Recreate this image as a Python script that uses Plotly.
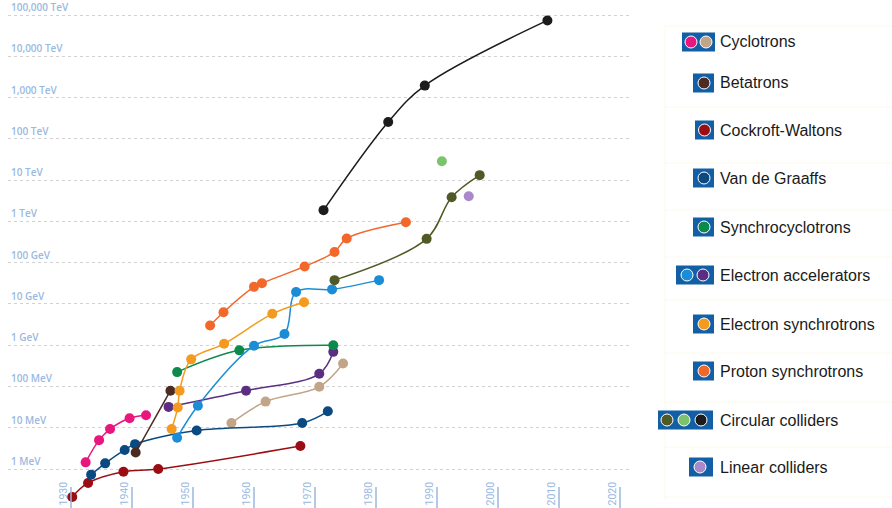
import math
import plotly.graph_objects as go

W, H = 892, 508

# ---------------- data (year, energy in MeV) ----------------
cyc_pink_year = [1932.4, 1934.6, 1936.4, 1939.6, 1942.3]
cyc_pink_mev = [1.45, 5.0, 9.3, 17, 20]
cyc_tan_year = [1956.3, 1961.9, 1970.7, 1974.6]
cyc_tan_mev = [13, 43, 98, 360]
beta_year = [1940.6, 1946.3]
beta_mev = [2.5, 79]
cw_year = [1930.2, 1932.8, 1938.6, 1944.3, 1967.6]
cw_mev = [0.21, 0.46, 0.86, 1.0, 3.6]
vdg_year = [1933.3, 1935.6, 1938.8, 1940.5, 1950.6, 1967.9, 1972.1]
vdg_mev = [0.73, 1.37, 2.9, 4.0, 8.6, 13, 25]
synccyc_year = [1947.4, 1957.6, 1973.0]
synccyc_mev = [223, 750, 1000]
eacc_blue_year = [1947.4, 1950.8, 1960.0, 1965.0, 1966.9, 1972.8, 1980.5]
eacc_blue_mev = [5.7, 34, 970, 1860, 19400, 22500, 37700]
eacc_purple_year = [1946.0, 1958.7, 1970.7, 1973.0]
eacc_purple_mev = [32, 79, 203, 690]
esync_year = [1946.5, 1947.5, 1947.8, 1949.7, 1955.1, 1963.0, 1968.2]
esync_mev = [9.3, 31, 79, 454, 1080, 5760, 11000]
psync_year = [1952.8, 1955.0, 1960.0, 1961.3, 1968.3, 1973.2, 1975.2, 1984.9]
psync_mev = [3000, 6300, 25900, 31800, 81000, 182000, 385000, 955000]
coll_olive_year = [1973.2, 1988.3, 1992.4, 1997.0]
coll_olive_mev = [37700, 377000, 3.85e6, 1.32e7]
coll_green_year = [1990.8]
coll_green_mev = [2.87e7]
coll_black_year = [1971.4, 1982.0, 1988.0, 2008.1]
coll_black_mev = [1.87e6, 2.56e8, 1.95e9, 7.4e10]
lin_year = [1995.2]
lin_mev = [4.07e6]

ytick_vals = [1, 10, 100, 1e3, 1e4, 1e5, 1e6, 1e7, 1e8, 1e9, 1e10, 1e11]
ytick_text = ["1 MeV", "10 MeV", "100 MeV", "1 GeV", "10 GeV", "100 GeV", "1 TeV",
              "10 TeV", "100 TeV", "1,000 TeV", "10,000 TeV", "100,000 TeV"]
xtick_vals = [1930, 1940, 1950, 1960, 1970, 1980, 1990, 2000, 2010, 2020]

legend_names = ["Cyclotrons", "Betatrons", "Cockroft-Waltons", "Van de Graaffs",
                "Synchrocyclotrons", "Electron accelerators", "Electron synchrotrons",
                "Proton synchrotrons", "Circular colliders", "Linear colliders"]

# ---------------- colours ----------------
C = dict(pink="#e8177d", tan="#c2a589", brown="#4b2b22", red="#9a0d12", vdg="#0b4a80",
         green="#0c8a4b", lblue="#1b8dd6", purple="#5c2e83", esync="#f49b1f",
         psync="#f2672a", olive="#4f5a26", lgreen="#7cc46b", black="#1c1c1c",
         lilac="#a989c9")
LABEL = "#9ab9df"
BOX = "#135fa6"

series = [
    (cyc_pink_year, cyc_pink_mev, C["pink"]),
    (cyc_tan_year, cyc_tan_mev, C["tan"]),
    (cw_year, cw_mev, C["red"]),
    (vdg_year, vdg_mev, C["vdg"]),
    (beta_year, beta_mev, C["brown"]),
    (eacc_purple_year, eacc_purple_mev, C["purple"]),
    (synccyc_year, synccyc_mev, C["green"]),
    (eacc_blue_year, eacc_blue_mev, C["lblue"]),
    (esync_year, esync_mev, C["esync"]),
    (psync_year, psync_mev, C["psync"]),
    (coll_olive_year, coll_olive_mev, C["olive"]),
    (coll_green_year, coll_green_mev, C["lgreen"]),
    (coll_black_year, coll_black_mev, C["black"]),
    (lin_year, lin_mev, C["lilac"]),
]

fig = go.Figure()
for xs, ys, col in series:
    fig.add_trace(go.Scatter(
        x=xs, y=ys, mode="lines+markers" if len(xs) > 1 else "markers",
        line=dict(color=col, width=1.5, shape="spline", smoothing=1.0),
        marker=dict(color=col, size=10, line=dict(width=0)),
        showlegend=False, hoverinfo="x+y"))

# axis mapping: year -> px = 71 + (year-1930)*6.1 ; log10(MeV) -> px = 469 - 41.27*log
px_per_year = 6.1
x_left_px, x_right_px = 8, 632
x0 = 1930 + (x_left_px - 71) / px_per_year
x1 = 1930 + (x_right_px - 71) / px_per_year
dec = 41.27
y_top = 469 / dec
y_bot = -(H - 469) / dec

fig.update_xaxes(domain=[x_left_px / W, x_right_px / W], range=[x0, x1],
                 showgrid=False, zeroline=False, showticklabels=False, ticks="",
                 showline=False, fixedrange=True)
fig.update_yaxes(type="log", range=[y_bot, y_top], domain=[0, 1],
                 tickvals=ytick_vals, showticklabels=False, ticks="",
                 showgrid=True, gridcolor="#d2d2d2", gridwidth=1, griddash="dot",
                 zeroline=False, showline=False, fixedrange=True)

ann = []
shapes = []
# y labels (annotation y on a log axis is given in log10 units)
for v, t in zip(ytick_vals, ytick_text):
    ann.append(dict(x=9 / W, xref="paper", xanchor="left", y=math.log10(v), yref="y",
                    yanchor="bottom", yshift=-1, text=t, showarrow=False,
                    font=dict(family="Open Sans", size=10, color=LABEL, weight=600)))
# x labels and tick marks
for yr in xtick_vals:
    ann.append(dict(x=yr, xref="x", xanchor="right", xshift=0, y=0, yref="paper",
                    yanchor="bottom", yshift=0, text=str(yr), textangle=-90,
                    showarrow=False,
                    font=dict(family="Roboto", size=10.5, color=LABEL)))
    shapes.append(dict(type="line", xref="x", yref="paper", x0=yr, x1=yr,
                       y0=0, y1=21 / H, line=dict(color=LABEL, width=1.5)))


def P(px, py):
    return px / W, 1 - py / H


# faint legend table lines
for ly in [26, 107, 163, 210, 257, 300, 353, 402, 447, 497]:
    a = P(663, ly)
    b = P(W, ly)
    shapes.append(dict(type="line", xref="paper", yref="paper", x0=a[0], x1=b[0],
                       y0=a[1], y1=b[1], line=dict(color="#fcf9ea", width=1)))
for lx in [665]:
    a = P(lx, 26)
    b = P(lx, 500)
    shapes.append(dict(type="line", xref="paper", yref="paper", x0=a[0], x1=b[0],
                       y0=a[1], y1=b[1], line=dict(color="#fcf9ea", width=1)))

# legend: (box x0, x1, center y, [(cx, colour)...])
legend_rows = [
    (682, 715, 42, [(691, C["pink"]), (706, C["tan"])]),
    (693, 714, 83, [(704, C["brown"])]),
    (695, 714, 130, [(704.5, C["red"])]),
    (693, 714, 178, [(704, C["vdg"])]),
    (693, 714, 227, [(704, C["green"])]),
    (676, 714, 275, [(687, C["lblue"]), (703, C["purple"])]),
    (693, 714, 324, [(704, C["esync"])]),
    (693, 714, 371, [(704, C["psync"])]),
    (658, 713, 420, [(667, C["olive"]), (684, C["lgreen"]), (701, C["black"])]),
    (689, 713, 467, [(700, C["lilac"])]),
]
for (bx0, bx1, cy, circles), name in zip(legend_rows, legend_names):
    a = P(bx0, cy - 9.5)
    b = P(bx1, cy + 9.5)
    shapes.append(dict(type="rect", xref="paper", yref="paper", x0=a[0], x1=b[0],
                       y0=b[1], y1=a[1], fillcolor=BOX, line=dict(width=0)))
    for cx, col in circles:
        r = 6
        a = P(cx - r, cy - r)
        b = P(cx + r, cy + r)
        shapes.append(dict(type="circle", xref="paper", yref="paper", x0=a[0], x1=b[0],
                           y0=b[1], y1=a[1], fillcolor=col,
                           line=dict(color="white", width=1)))
    t = P(718, cy)
    ann.append(dict(x=t[0], y=t[1], xref="paper", yref="paper", xanchor="left",
                    yanchor="middle", text=name, showarrow=False,
                    font=dict(family="Liberation Sans, Arial", size=16, color="#1a1a1a")))

fig.update_layout(width=W, height=H, margin=dict(l=0, r=0, t=0, b=0),
                  paper_bgcolor="white", plot_bgcolor="white",
                  annotations=ann, shapes=shapes, showlegend=False)

fig.write_html("out.html")
